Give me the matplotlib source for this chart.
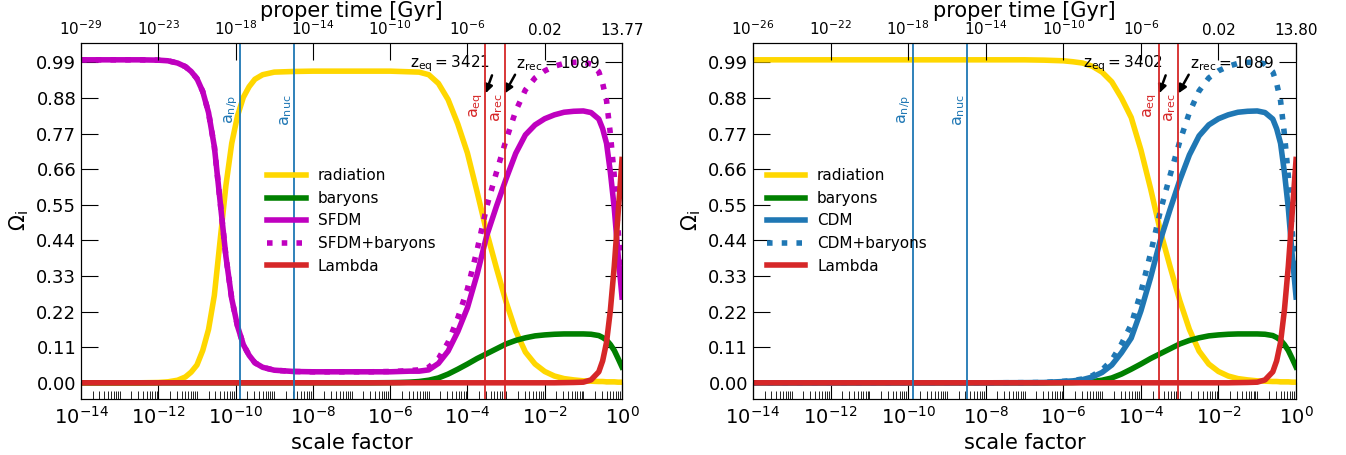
import numpy as np
import matplotlib.pyplot as plt
from matplotlib.ticker import LogLocator, NullLocator, NullFormatter

# log10 of the scale factor at the sampled points
log_a = [-14, -12.5, -12, -11.75, -11.5, -11.3, -11.15, -11.0, -10.85, -10.7,
         -10.55, -10.4, -10.25, -10.1, -9.95, -9.8, -9.65, -9.5, -9.3, -9.0,
         -8.5, -8, -7, -6.5, -6, -5.75, -5.5, -5.25, -5.0, -4.75,
         -4.5, -4.25, -4.0, -3.75, -3.5, -3.25, -3.0, -2.75, -2.5, -2.25,
         -2.0, -1.75, -1.5, -1.25, -1.0, -0.8, -0.6, -0.5, -0.4, -0.3,
         -0.2, -0.1, -0.05, 0]

# left panel (SFDM)
rad_sf = [0.0, 0.0, 0.001, 0.003, 0.008, 0.018, 0.033, 0.055, 0.10, 0.165,
          0.27, 0.44, 0.61, 0.74, 0.825, 0.882, 0.915, 0.938, 0.952, 0.96,
          0.962, 0.963, 0.963, 0.963, 0.963, 0.962, 0.961, 0.96, 0.952, 0.925,
          0.875, 0.80, 0.71, 0.59, 0.465, 0.355, 0.25, 0.16, 0.095, 0.058,
          0.035, 0.021, 0.013, 0.009, 0.006, 0.005, 0.004, 0.004, 0.003, 0.003,
          0.003, 0.002, 0.002, 0.002]
sfdm = [0.998, 0.998, 0.997, 0.995, 0.988, 0.977, 0.962, 0.94, 0.90, 0.835,
        0.73, 0.56, 0.39, 0.26, 0.175, 0.118, 0.085, 0.062, 0.048, 0.039,
        0.035, 0.034, 0.034, 0.034, 0.034, 0.035, 0.036, 0.036, 0.04, 0.06,
        0.098, 0.158, 0.232, 0.335, 0.455, 0.545, 0.63, 0.709, 0.766, 0.797,
        0.816, 0.828, 0.836, 0.839, 0.84, 0.835, 0.815, 0.785, 0.74, 0.65,
        0.54, 0.395, 0.33, 0.265]
sfdm_bar = [0.998, 0.998, 0.997, 0.995, 0.988, 0.977, 0.962, 0.94, 0.90, 0.835,
            0.73, 0.56, 0.39, 0.26, 0.175, 0.118, 0.085, 0.062, 0.048, 0.039,
            0.035, 0.034, 0.034, 0.034, 0.035, 0.036, 0.038, 0.040, 0.048, 0.075,
            0.125, 0.20, 0.29, 0.41, 0.545, 0.65, 0.75, 0.84, 0.905, 0.942,
            0.964, 0.978, 0.987, 0.99, 0.991, 0.985, 0.961, 0.925, 0.872, 0.768,
            0.64, 0.47, 0.392, 0.314]

# right panel (CDM)
rad_cdm = [0.998, 0.998, 0.998, 0.998, 0.998, 0.998, 0.998, 0.998, 0.998, 0.998,
           0.998, 0.998, 0.998, 0.998, 0.998, 0.998, 0.998, 0.998, 0.998, 0.998,
           0.998, 0.998, 0.998, 0.997, 0.995, 0.992, 0.988, 0.978, 0.96, 0.93,
           0.88, 0.82, 0.72, 0.60, 0.47, 0.36, 0.255, 0.165, 0.098, 0.058,
           0.035, 0.021, 0.013, 0.009, 0.006, 0.005, 0.004, 0.004, 0.003, 0.003,
           0.003, 0.002, 0.002, 0.002]
cdm = [0, 0, 0, 0, 0, 0, 0, 0, 0, 0,
       0, 0, 0, 0, 0, 0, 0, 0, 0, 0,
       0, 0, 0.0005, 0.001, 0.004, 0.006, 0.01, 0.018, 0.032, 0.055,
       0.093, 0.138, 0.222, 0.325, 0.44, 0.535, 0.625, 0.704, 0.763, 0.797,
       0.816, 0.828, 0.836, 0.839, 0.84, 0.835, 0.815, 0.785, 0.74, 0.65,
       0.54, 0.395, 0.33, 0.265]
cdm_bar = [0, 0, 0, 0, 0, 0, 0, 0, 0, 0,
           0, 0, 0, 0, 0, 0, 0, 0, 0, 0,
           0, 0, 0.0005, 0.001, 0.0045, 0.007, 0.012, 0.022, 0.04, 0.07,
           0.12, 0.18, 0.28, 0.40, 0.53, 0.64, 0.745, 0.835, 0.902, 0.942,
           0.964, 0.978, 0.987, 0.99, 0.991, 0.985, 0.961, 0.925, 0.872, 0.768,
           0.64, 0.47, 0.392, 0.314]

# same in both panels
baryons = [0, 0, 0, 0, 0, 0, 0, 0, 0, 0,
           0, 0, 0, 0, 0, 0, 0, 0, 0, 0,
           0, 0, 0, 0, 0.0005, 0.001, 0.002, 0.004, 0.008, 0.015,
           0.027, 0.042, 0.058, 0.075, 0.09, 0.105, 0.12, 0.131, 0.139, 0.145,
           0.148, 0.15, 0.151, 0.151, 0.151, 0.15, 0.146, 0.14, 0.132, 0.118,
           0.10, 0.075, 0.062, 0.049]
lam = [0, 0, 0, 0, 0, 0, 0, 0, 0, 0,
       0, 0, 0, 0, 0, 0, 0, 0, 0, 0,
       0, 0, 0, 0, 0, 0, 0, 0, 0, 0,
       0, 0, 0, 0, 0, 0, 0, 0, 0, 0,
       0, 0, 0.0005, 0.001, 0.002, 0.009, 0.034, 0.068, 0.125, 0.225,
       0.36, 0.525, 0.605, 0.69]

a_np = 1.3e-10
a_nuc = 3.2e-9
z_eq = [3421, 3402]
z_rec = 1089

yticks = [0.0, 0.11, 0.22, 0.33, 0.44, 0.55, 0.66, 0.77, 0.88, 0.99]
xticks_exp = [-14, -12, -10, -8, -6, -4, -2, 0]
top_labels_sf = [r'$10^{-29}$', r'$10^{-23}$', r'$10^{-18}$', r'$10^{-14}$',
                 r'$10^{-10}$', r'$10^{-6}$', '0.02', '13.77']
top_labels_cdm = [r'$10^{-26}$', r'$10^{-22}$', r'$10^{-18}$', r'$10^{-14}$',
                  r'$10^{-10}$', r'$10^{-6}$', '0.02', '13.80']

c_rad = 'gold'
c_bar = 'green'
c_sf = '#bf00bf'
c_cdm = 'tab:blue'
c_lam = 'tab:red'

a = 10 ** np.array(log_a)
xt = [10.0 ** e for e in xticks_exp]

fig = plt.figure(figsize=(13.46, 4.55), dpi=100)
ax1 = fig.add_axes([0.0602, 0.1231, 0.4019, 0.7824])
ax2 = fig.add_axes([0.5594, 0.1231, 0.4035, 0.7824])

panels = [
    (ax1, sfdm, sfdm_bar, rad_sf, c_sf, 'SFDM', top_labels_sf, z_eq[0], 'center'),
    (ax2, cdm, cdm_bar, rad_cdm, c_cdm, 'CDM', top_labels_cdm, z_eq[1], 'center left'),
]

for ax, dm, dmb, rad, cdm_col, name, top_labels, zeq, loc in panels:
    ax.plot(a, rad, color=c_rad, lw=4, label='radiation')
    ax.plot(a, baryons, color=c_bar, lw=4, label='baryons')
    ax.plot(a, dm, color=cdm_col, lw=4, label=name)
    ax.plot(a, dmb, color=cdm_col, lw=4, ls=':', label=name + '+baryons')
    ax.plot(a, lam, color=c_lam, lw=4, label='Lambda')

    a_eq = 1.0 / (1 + zeq)
    a_rec = 1.0 / (1 + z_rec)
    ax.axvline(a_np, color='tab:blue', lw=1.3, zorder=5)
    ax.axvline(a_nuc, color='tab:blue', lw=1.3, zorder=5)
    ax.axvline(a_eq, color='tab:red', lw=1.3, zorder=5)
    ax.axvline(a_rec, color='tab:red', lw=1.3, zorder=5)
    ax.text(a_np, 0.89, r'$\mathrm{a_{n/p}}$', rotation=90, ha='right', va='top',
            color='tab:blue', fontsize=11.5)
    ax.text(a_nuc, 0.89, r'$\mathrm{a_{nuc}}$', rotation=90, ha='right', va='top',
            color='tab:blue', fontsize=11.5)
    ax.text(a_eq, 0.895, r'$\mathrm{a_{eq}}$', rotation=90, ha='right', va='top',
            color='tab:red', fontsize=11.5)
    ax.text(a_rec, 0.895, r'$\mathrm{a_{rec}}$', rotation=90, ha='right', va='top',
            color='tab:red', fontsize=11.5)

    ax.text(10 ** -5.48, 0.985, r'$\mathrm{z_{eq} = %d}$' % zeq, ha='left', va='center', fontsize=11)
    ax.text(10 ** -2.74, 0.985, r'$\mathrm{z_{rec} = %d}$' % z_rec, ha='left', va='center', fontsize=11)
    ax.annotate('', xy=(a_eq, 0.894), xytext=(a_eq * 10 ** 0.17, 0.95),
                arrowprops=dict(arrowstyle='-|>', color='k', lw=1.8, mutation_scale=12,
                                shrinkA=0, shrinkB=0))
    ax.annotate('', xy=(a_rec, 0.894), xytext=(a_rec * 10 ** 0.27, 0.952),
                arrowprops=dict(arrowstyle='-|>', color='k', lw=1.8, mutation_scale=12,
                                shrinkA=0, shrinkB=0))

    ax.set_xscale('log')
    ax.set_xlim(1e-14, 1)
    ax.set_ylim(-0.05, 1.05)
    ax.set_xticks(xt)
    ax.xaxis.set_minor_locator(LogLocator(base=10, subs=np.arange(1, 10), numticks=100))
    ax.xaxis.set_minor_formatter(NullFormatter())
    ax.set_yticks(yticks)
    ax.set_yticklabels(['%.2f' % v for v in yticks])
    ax.tick_params(axis='both', which='both', direction='in', top=False, right=True)
    ax.tick_params(axis='both', which='major', length=12)
    ax.tick_params(axis='x', which='minor', length=6)
    ax.tick_params(axis='x', labelsize=14, pad=5)
    ax.tick_params(axis='y', labelsize=13)
    ax.set_xlabel('scale factor', fontsize=15)
    ax.set_ylabel(r'$\Omega_{\rm i}$', fontsize=15)

    ax.legend(loc=loc, frameon=False, fontsize=11, handlelength=2.5)

    top = ax.twiny()
    top.set_xscale('log')
    top.set_xlim(1e-14, 1)
    top.set_xticks(xt)
    top.set_xticklabels(top_labels)
    top.xaxis.set_minor_locator(NullLocator())
    top.tick_params(axis='x', direction='in', length=12, labelsize=11)
    top.set_xlabel('proper time [Gyr]', fontsize=15, labelpad=2)

fig.savefig('out.png', dpi=100)
